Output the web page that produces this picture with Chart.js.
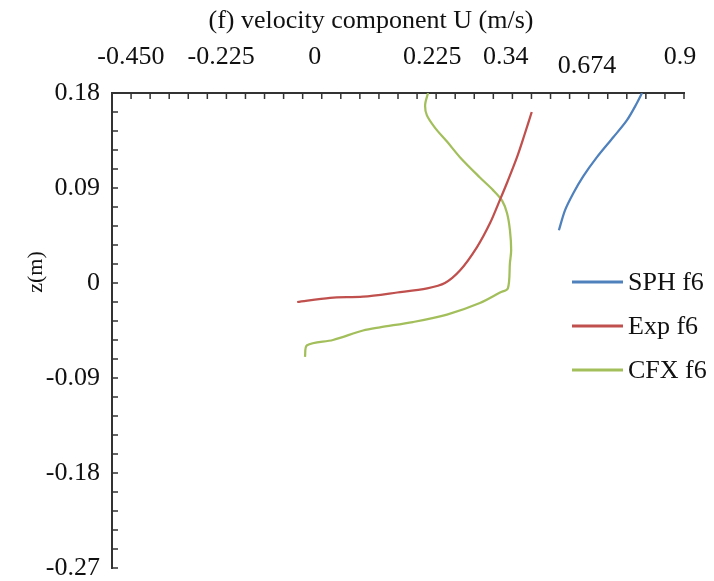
<!DOCTYPE html>
<html>
<head>
<meta charset="utf-8">
<title>(f) velocity component U</title>
<script src="https://cdn.jsdelivr.net/npm/chart.js@4.4.1/dist/chart.umd.min.js"></script>
<style>
  html, body { margin: 0; padding: 0; background: #fff; }
  #wrap { position: relative; width: 714px; height: 581px; }
</style>
</head>
<body>
<div id="wrap"><canvas id="chart-u"></canvas></div>
<script>
/* ─── Profiles: U (m/s) against z (m) ─────────────────────── */
const SPH_U = [0.808, 0.795, 0.771, 0.738, 0.698, 0.665, 0.641, 0.621, 0.606];
const SPH_Z = [0.180, 0.170, 0.154, 0.138, 0.119, 0.101, 0.085, 0.069, 0.050];

const EXP_U = [0.540, 0.522, 0.504, 0.480, 0.463, 0.439, 0.407, 0.366, 0.329, 0.286, 0.213, 0.130, 0.050, -0.030];
const EXP_Z = [0.162, 0.140, 0.119, 0.095, 0.079, 0.057, 0.034, 0.012, 0.000, -0.005, -0.009, -0.013, -0.014, -0.018];

const CFX_U = [0.288, 0.281, 0.285, 0.305, 0.334, 0.366, 0.414, 0.446, 0.468, 0.480, 0.487, 0.490,
               0.487, 0.482, 0.463, 0.414, 0.334, 0.251, 0.171, 0.130, 0.057, -0.006, -0.011];
const CFX_Z = [0.180, 0.169, 0.159, 0.147, 0.134, 0.119, 0.100, 0.088, 0.078, 0.066, 0.050, 0.031,
               0.019, -0.005, -0.009, -0.019, -0.030, -0.037, -0.042, -0.045, -0.054, -0.059, -0.070];

const SERIES_NAMES = ['SPH f6', 'Exp f6', 'CFX f6'];

/* ─── Axis labels ─────────────────────────────────────────── */
const X_TICK_LABELS = ['-0.450', '-0.225', '0', '0.225', '0.34', '0.674', '0.9'];
const X_TICK_AT     = [-0.434, -0.215, 0.013, 0.298, 0.477, 0.674, 0.900];
const Y_TICK_LABELS = ['0.18', '0.09', '0', '-0.09', '-0.18', '-0.27'];
const Y_TICK_AT     = [0.18, 0.09, 0, -0.09, -0.18, -0.27];

/* ─── Style ───────────────────────────────────────────────── */
const SERIF  = "'Liberation Serif', 'Times New Roman', serif";
const COLORS = ['#4F81BD', '#C0504D', '#A3BF5C'];
const AXIS_COLOR = '#333';
const X_MINOR = 30;       // tick marks along U
const Y_MINOR = 0.018;    // tick spacing along z

const pts = (us, zs) => us.map((u, i) => ({ x: u, y: zs[i] }));

/* inward tick marks on both axes */
const innerTicks = {
  id: 'innerTicks',
  afterDraw(chart) {
    const { ctx, chartArea: a, scales: { x, y } } = chart;
    ctx.save();
    ctx.strokeStyle = AXIS_COLOR;
    ctx.lineWidth = 1.5;
    ctx.beginPath();
    for (let i = 0; i <= X_MINOR; i++) {
      const px = x.getPixelForValue(x.min + (x.max - x.min) * i / X_MINOR);
      ctx.moveTo(px, a.top);
      ctx.lineTo(px, a.top + 6);
    }
    for (let v = y.max; v >= y.min - 1e-9; v -= Y_MINOR) {
      const py = y.getPixelForValue(v);
      ctx.moveTo(a.left, py);
      ctx.lineTo(a.left + 6, py);
    }
    ctx.stroke();
    ctx.restore();
  }
};

/* axis titles: U title sits left of the plot centre, z(m) above the axis middle */
const axisTitles = {
  id: 'axisTitles',
  afterDraw(chart) {
    const { ctx, chartArea: a } = chart;
    ctx.save();
    ctx.fillStyle = '#111';
    ctx.textAlign = 'center';
    ctx.textBaseline = 'middle';

    ctx.font = `26px ${SERIF}`;
    ctx.fillText('(f) velocity component U (m/s)', a.left + 259, a.top - 72);

    ctx.translate(a.left - 76, a.top + 179);
    ctx.rotate(-Math.PI / 2);
    ctx.font = `22px ${SERIF}`;
    ctx.fillText('z(m)', 0, 0);
    ctx.restore();
  }
};

/* legend inside the plot, right side */
const sideLegend = {
  id: 'sideLegend',
  afterDraw(chart) {
    const { ctx, chartArea: a } = chart;
    ctx.save();
    ctx.font = `26px ${SERIF}`;
    ctx.fillStyle = '#111';
    ctx.textBaseline = 'middle';
    chart.data.datasets.forEach((ds, i) => {
      const ly = a.top + 189 + i * 44;
      ctx.strokeStyle = ds.borderColor;
      ctx.lineWidth = 3;
      ctx.beginPath();
      ctx.moveTo(a.right - 112, ly);
      ctx.lineTo(a.right - 61, ly);
      ctx.stroke();
      ctx.fillText(ds.label, a.right - 56, ly + 1);
    });
    ctx.restore();
  }
};

const series = [pts(SPH_U, SPH_Z), pts(EXP_U, EXP_Z), pts(CFX_U, CFX_Z)];

new Chart(document.getElementById('chart-u'), {
  type: 'scatter',
  data: {
    datasets: series.map((data, i) => ({
      label: SERIES_NAMES[i],
      data,
      showLine: true,
      borderColor: COLORS[i],
      backgroundColor: COLORS[i],
      borderWidth: 2.25,
      pointRadius: 0,
      tension: 0.3,
    })),
  },
  options: {
    responsive: true,
    maintainAspectRatio: false,
    animation: false,
    layout: { padding: { left: 0, right: 30, top: 36, bottom: 13 } },
    plugins: {
      legend: { display: false },
      tooltip: { enabled: false },
      title: { display: false },
    },
    scales: {
      x: {
        type: 'linear',
        position: 'top',
        min: -0.48,
        max: 0.91,
        afterBuildTicks: s => { s.ticks = X_TICK_AT.map(v => ({ value: v })); },
        afterFit: s => { s.height = 57; s.paddingLeft = 0; s.paddingRight = 0; },
        grid: { display: false, drawTicks: false },
        border: { display: true, color: AXIS_COLOR, width: 2 },
        ticks: {
          autoSkip: false,
          maxRotation: 0,
          padding: 20,
          color: '#111',
          callback: (v, i) => X_TICK_LABELS[i],
          // 0.674 hangs a little lower than its neighbours
          font: ctx => ({ family: SERIF, size: 26, lineHeight: ctx.index === 5 ? 0.55 : 1.2 }),
        },
      },
      y: {
        type: 'linear',
        min: -0.27,
        max: 0.18,
        afterBuildTicks: s => { s.ticks = Y_TICK_AT.map(v => ({ value: v })); },
        afterFit: s => { s.width = 112; s.paddingTop = 0; s.paddingBottom = 0; },
        grid: { display: false, drawTicks: false },
        border: { display: true, color: AXIS_COLOR, width: 2 },
        ticks: {
          padding: 12,
          color: '#111',
          callback: (v, i) => Y_TICK_LABELS[i],
          font: { family: SERIF, size: 26 },
        },
      },
    },
  },
  plugins: [innerTicks, axisTitles, sideLegend],
});
</script>
</body>
</html>
